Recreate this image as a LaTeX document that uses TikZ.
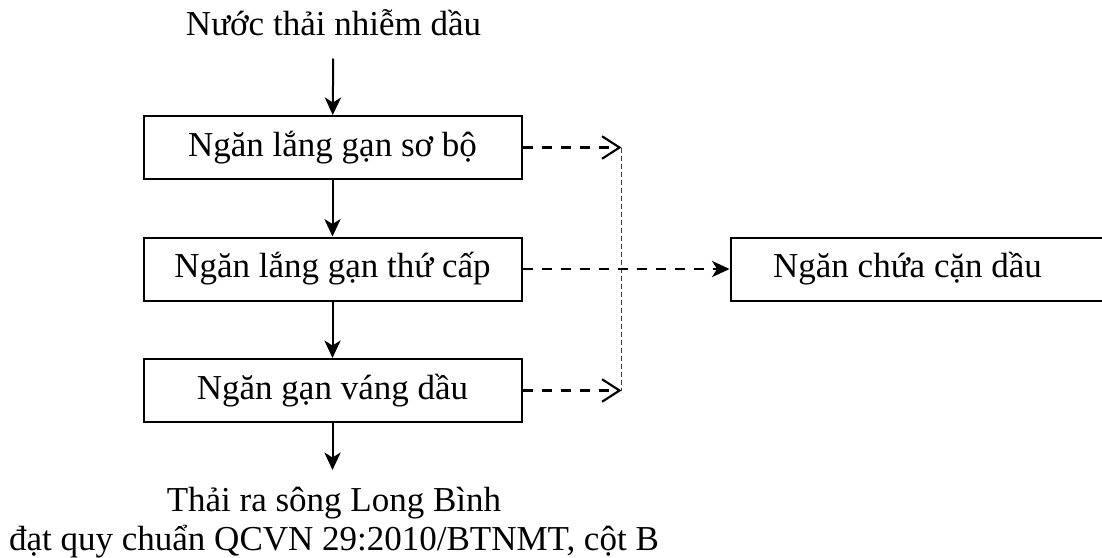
\documentclass[tikz,border=0pt]{standalone}
\usepackage{fontspec}
\setmainfont{Liberation Serif}
\usepackage{tikz}
\usetikzlibrary{arrows.meta, positioning}

\begin{document}
\begin{tikzpicture}[
    every node/.style={font=\fontsize{14pt}{15.6pt}\selectfont},
    tank/.style={draw,line width=0.8pt,minimum width=151.2pt,minimum height=25.2pt,inner sep=0pt},
    flow/.style={line width=0.8pt,-{Stealth[length=7pt,width=6.5pt,inset=2pt]}},
    sludge/.style={line width=0.85pt,dash pattern=on 4.2pt off 3.4pt},
    gather/.style={line width=0.4pt,black!75,dash pattern=on 2pt off 1.2pt},
    node distance=22.6pt
  ]
    \useasboundingbox (0,0) rectangle (440.8pt,-222.8pt);
    \node[anchor=base,text depth=0pt,inner ysep=9.2pt] (src) at (133.4pt,-14pt) {Nước thải nhiễm dầu};
    \node[tank,anchor=north] (b1) at (133pt,-46pt) {Ngăn lắng gạn sơ bộ};
    \node[tank,below=of b1] (b2) {Ngăn lắng gạn thứ cấp};
    \node[tank,below=of b2] (b3) {Ngăn gạn váng dầu};
    \node[tank,minimum width=152pt,right=82.8pt of b2] (cdbox) {};
    \node (cdtxt) at ([xshift=-5.2pt]cdbox.center) {Ngăn chứa cặn dầu};
    \coordinate (out) at (133pt,-188pt);
    \node[anchor=base,align=center] (dst) at (133.6pt,-220.2pt) {Thải ra sông Long Bình\\đạt quy chuẩn QCVN 29:2010/BTNMT, cột B};
    % main line
    \draw[flow] (src) -- (b1);
    \foreach \a/\b in {b1/b2,b2/b3} {
        \draw[flow] (\a) -- (\b);
    }
    \draw[flow] (b3) -- (out);
    % oil and sludge
    \path (b1.east) ++(39.6pt,0) coordinate (jt);
    \path (b3.east) ++(39.6pt,0) coordinate (jb);
    \draw[gather] (jt) -- (jb);
    \foreach \a/\j in {b1/jt,b3/jb} {
        \draw[sludge,-{Straight Barb[length=7pt,width=9pt]}] (\a) -- (\j);
    }
    \draw[sludge,-{Stealth[length=7pt,width=6.5pt,inset=2pt]}] (b2) -- (cdbox);
\end{tikzpicture}
\end{document}
